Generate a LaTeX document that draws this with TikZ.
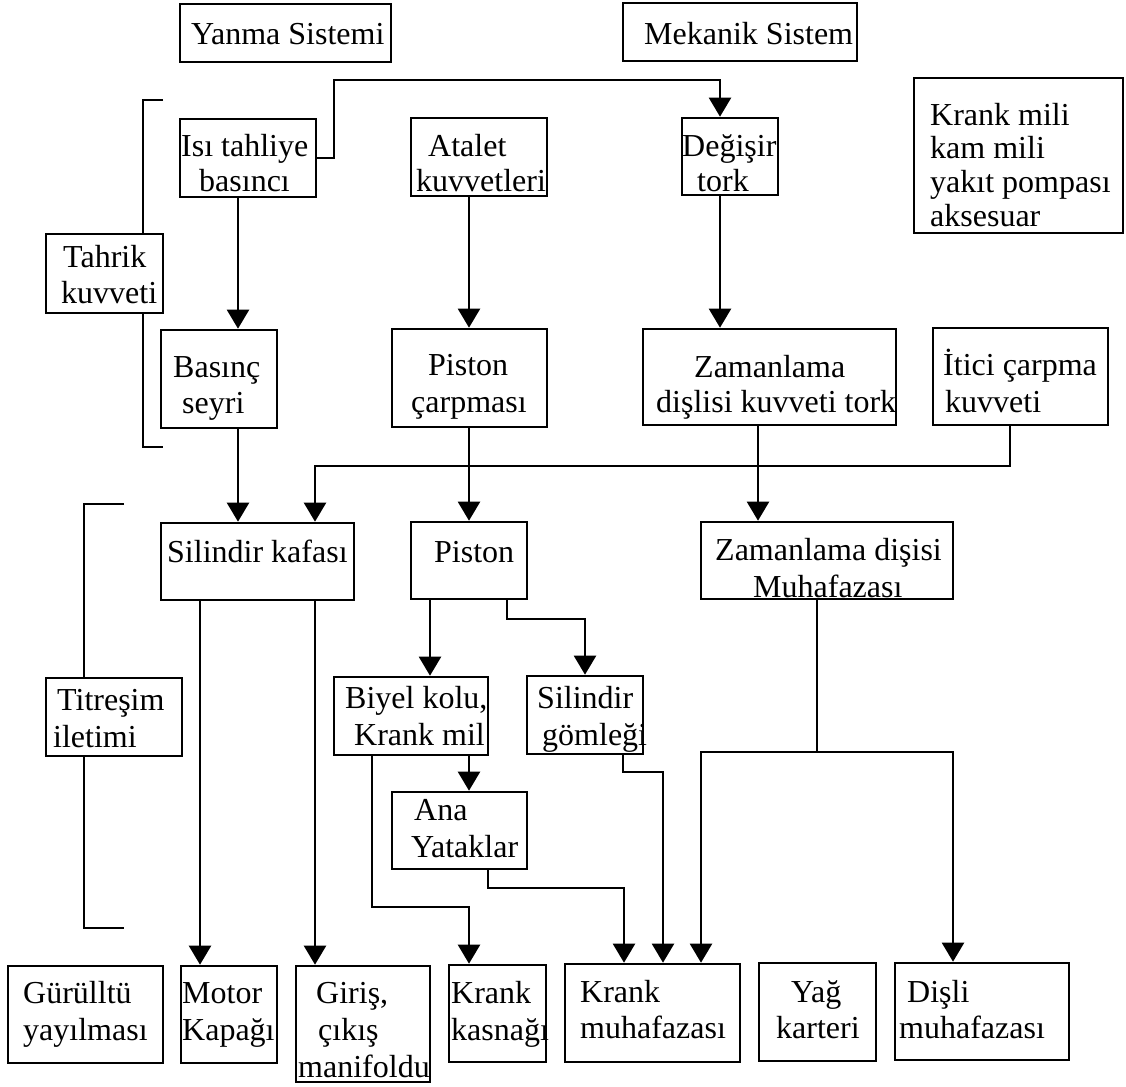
\documentclass[tikz,border=0pt]{standalone}
\usepackage{fontspec}
\setmainfont{Liberation Serif}
\usetikzlibrary{arrows.meta}
\tikzset{
  box/.style={draw, rectangle, line width=2.6pt, inner sep=0pt},
  txt/.style={inner sep=0pt, anchor=base west, font=\fontsize{32}{35}\selectfont},
  con/.style={line width=2.2pt},
  arr/.style={con, -{Triangle[width=22pt,length=19pt]}},
}
\newcommand\Bx[5]{\node[box, minimum width={(#4-#2)*1pt}, minimum height={(#5-#3)*1pt}] (#1) at ({(#2+#4)/2},{(#3+#5)/2}) {};}
\newcommand\Tl[4]{\node[txt] (#1) at (#2,#3) {#4};}
\begin{document}
\begin{tikzpicture}[x=1pt,y=-1pt]
\useasboundingbox (0,0) rectangle (1126,1086);
\fill[white] (0,0) rectangle (1126,1086);

% boxes
\Bx{yanma}{180}{4}{391}{62}
\Bx{mekanik}{623}{3}{857}{61}
\Bx{krankmili}{914}{78}{1123}{233}
\Bx{isi}{180}{119}{316}{197}
\Bx{atalet}{411}{118}{547}{196}
\Bx{degisir}{682}{118}{778}{195}
\Bx{tahrik}{46}{234}{163}{313}
\Bx{basinc}{161}{330}{277}{428}
\Bx{pcarp}{392}{329}{547}{427}
\Bx{zam1}{643}{329}{896}{425}
\Bx{itici}{933}{328}{1108}{425}
\Bx{silindir}{161}{523}{354}{600}
\Bx{piston}{411}{522}{527}{599}
\Bx{zam2}{701}{522}{953}{599}
\Bx{titresim}{46}{678}{182}{756}
\Bx{biyel}{334}{677}{488}{755}
\Bx{gomlek}{527}{676}{643}{754}
\Bx{ana}{392}{792}{527}{869}
\Bx{gurultu}{8}{966}{163}{1063}
\Bx{motor}{181}{966}{277}{1063}
\Bx{giris}{296}{966}{430}{1082}
\Bx{kasnak}{449}{965}{546}{1062}
\Bx{krankmuh}{565}{964}{740}{1062}
\Bx{yag}{759}{963}{876}{1061}
\Bx{disli}{895}{963}{1069}{1060}

% texts
\Tl{yanma-t}{191}{45}{Yanma Sistemi}
\Tl{mekanik-t}{644}{45}{Mekanik Sistem}
\Tl{krankmili-t1}{930}{126}{Krank mili}
\Tl{krankmili-t2}{930}{159}{kam mili}
\Tl{krankmili-t3}{930}{193}{yakıt pompası}
\Tl{krankmili-t4}{930}{226}{aksesuar}
\Tl{isi-t1}{181}{157}{Isı tahliye}
\Tl{isi-t2}{199}{192}{basıncı}
\Tl{atalet-t1}{428}{157}{Atalet}
\Tl{atalet-t2}{416}{192}{kuvvetleri}
\Tl{degisir-t1}{682}{157}{Değişir}
\Tl{degisir-t2}{697}{192}{tork}
\Tl{tahrik-t1}{63}{267}{Tahrik}
\Tl{tahrik-t2}{61}{303}{kuvveti}
\Tl{basinc-t1}{173}{377}{Basınç}
\Tl{basinc-t2}{182}{413}{seyri}
\Tl{pcarp-t1}{428}{375}{Piston}
\Tl{pcarp-t2}{411}{412}{çarpması}
\Tl{zam1-t1}{694}{377}{Zamanlama}
\Tl{zam1-t2}{656}{412}{dişlisi kuvveti tork}
\Tl{itici-t1}{943}{375}{İtici çarpma}
\Tl{itici-t2}{945}{412}{kuvveti}
\Tl{silindir-t}{167}{562}{Silindir kafası}
\Tl{piston-t}{434}{562}{Piston}
\Tl{zam2-t1}{715}{560}{Zamanlama dişisi}
\Tl{zam2-t2}{753}{597}{Muhafazası}
\Tl{titresim-t1}{57}{710}{Titreşim}
\Tl{titresim-t2}{53}{747}{iletimi}
\Tl{biyel-t1}{345}{708}{Biyel kolu,}
\Tl{biyel-t2}{354}{745}{Krank mil}
\Tl{gomlek-t1}{537}{708}{Silindir}
\Tl{gomlek-t2}{542}{745}{gömleği}
\Tl{ana-t1}{414}{820}{Ana}
\Tl{ana-t2}{411}{857}{Yataklar}
\Tl{gurultu-t1}{23}{1003}{Gürülltü}
\Tl{gurultu-t2}{23}{1040}{yayılması}
\Tl{motor-t1}{182}{1003}{Motor}
\Tl{motor-t2}{182}{1040}{Kapağı}
\Tl{giris-t1}{316}{1003}{Giriş,}
\Tl{giris-t2}{318}{1040}{çıkış}
\Tl{giris-t3}{298}{1077}{manifoldu}
\Tl{kasnak-t1}{451}{1003}{Krank}
\Tl{kasnak-t2}{451}{1040}{kasnağı}
\Tl{krankmuh-t1}{580}{1002}{Krank}
\Tl{krankmuh-t2}{580}{1038}{muhafazası}
\Tl{yag-t1}{791}{1002}{Yağ}
\Tl{yag-t2}{776}{1038}{karteri}
\Tl{disli-t1}{907}{1002}{Dişli}
\Tl{disli-t2}{899}{1038}{muhafazası}

% free ends of brackets and junctions
\coordinate (b1a) at (163,100);
\coordinate (b1b) at (163,447);
\coordinate (b2a) at (124,504);
\coordinate (b2b) at (124,928);
\coordinate (br) at (817,752);

% brackets
\draw[con] (b1a) -| (tahrik.north -| 143,0);
\draw[con] (tahrik.south -| 143,0) |- (b1b);
\draw[con] (b2a) -| (titresim.north -| 84,0);
\draw[con] (titresim.south -| 84,0) |- (b2b);

% connectors
\draw[arr] (isi.east) -| (334,80) -| (degisir.north -| 720,0);
\draw[arr] (isi.south -| 238,0) -- (basinc.north -| 238,0);
\draw[arr] (atalet.south -| 469,0) -- (pcarp.north -| 469,0);
\draw[arr] (degisir.south -| 720,0) -- (zam1.north -| 720,0);
\draw[arr] (basinc.south -| 238,0) -- (silindir.north -| 238,0);
\draw[arr] (pcarp.south -| 469,0) -- (piston.north -| 469,0);
\draw[arr] (zam1.south -| 758,0) -- (zam2.north -| 758,0);
\draw[arr] (itici.south -| 1010,0) |- (315,466) -- (silindir.north -| 315,0);
\draw[arr] (silindir.south -| 200,0) -- (motor.north -| 200,0);
\draw[arr] (silindir.south -| 315,0) -- (giris.north -| 315,0);
\draw[arr] (piston.south -| 430,0) -- (biyel.north -| 430,0);
\draw[arr] (piston.south -| 507,0) |- (585,619) -- (gomlek.north -| 585,0);
\draw[arr] (biyel.south -| 469,0) -- (ana.north -| 469,0);
\draw[arr] (biyel.south -| 372,0) |- (469,907) -- (kasnak.north -| 469,0);
\draw[arr] (ana.south -| 488,0) |- (624,888) -- (krankmuh.north -| 624,0);
\draw[arr] (gomlek.south -| 623,0) |- (663,772) -- (krankmuh.north -| 663,0);
\draw[con] (zam2.south -| 817,0) -- (br);
\draw[arr] (br) -| (krankmuh.north -| 701,0);
\draw[arr] (br) -| (disli.north -| 953,0);
\end{tikzpicture}
\end{document}
